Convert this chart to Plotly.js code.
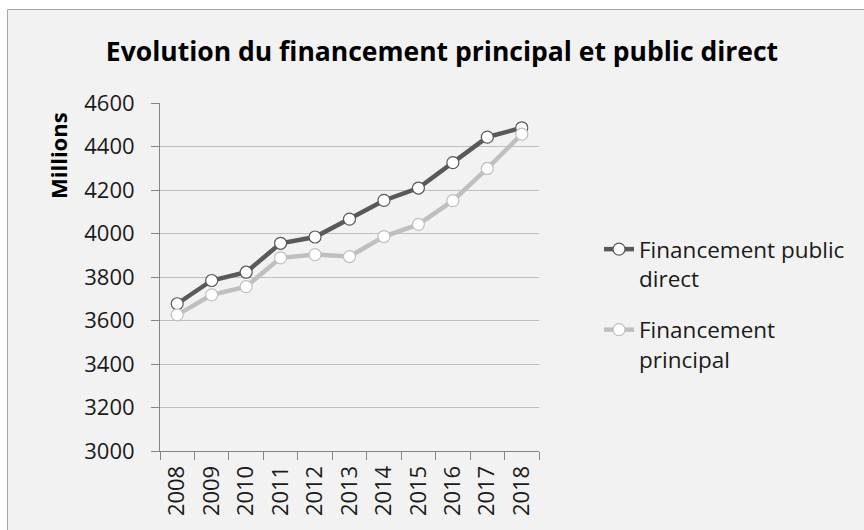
<!DOCTYPE html>
<html>
<head>
<meta charset="utf-8">
<script src="https://cdn.plot.ly/plotly-3.0.1.min.js"></script>
<style>
html,body{margin:0;padding:0;background:#ffffff;overflow:hidden;}
#chart{width:864px;height:530px;}
</style>
</head>
<body>
<div id="chart"></div>
<script>
var years = ["2008","2009","2010","2011","2012","2013","2014","2015","2016","2017","2018"];
var publicDirect = [3677, 3784, 3822, 3955, 3984, 4066, 4152, 4209, 4326, 4443, 4486];
var principal = [3626, 3718, 3756, 3888, 3903, 3894, 3986, 4042, 4151, 4299, 4457];
var yTicks = [3000, 3200, 3400, 3600, 3800, 4000, 4200, 4400, 4600];
var seriesNames = ["Financement public<br>direct", "Financement<br>principal"];
var chartTitle = "Evolution du financement principal et public direct";
var yTitle = "Millions";

var FONT = "Open Sans, Noto Sans, sans-serif";
var darkC = "#595959", lightC = "#bfbfbf";

var traces = [
  {x: years, y: publicDirect, name: seriesNames[0], type: "scatter", mode: "lines+markers",
   legendgroup: "a",
   line: {color: darkC, width: 4.5},
   marker: {symbol: "circle", size: 12, color: "#ffffff", line: {color: darkC, width: 1.2}}},
  {x: years, y: principal, name: seriesNames[1], type: "scatter", mode: "lines+markers",
   legendgroup: "b",
   line: {color: lightC, width: 4.5},
   marker: {symbol: "circle", size: 12, color: "#ffffff", line: {color: lightC, width: 1.2}}}
];

// plot area in pixels: x 160..539, y 103..451
var L = 160, R = 864 - 539, T = 103, B = 530 - 451;
var pw = 864 - L - R, ph = 530 - T - B;
function px2x(p){ return (p - L) / pw; }
function px2y(p){ return (530 - B - p) / ph; }

var layout = {
  width: 864, height: 530,
  margin: {l: L, r: R, t: T, b: B, pad: 0},
  paper_bgcolor: "#ffffff",
  plot_bgcolor: "rgba(0,0,0,0)",
  font: {family: FONT, size: 22, color: "#1a1a1a"},
  title: {text: "<b>" + chartTitle + "</b>", font: {family: FONT, size: 26.5, color: "#000000"},
          x: 442/864, xanchor: "center", xref: "container",
          y: 1 - 52/530, yanchor: "middle", yref: "container"},
  showlegend: true,
  legend: {x: px2x(599), xanchor: "left", y: px2y(228), yanchor: "top",
           bgcolor: "rgba(0,0,0,0)", font: {family: FONT, size: 22.5, color: "#1a1a1a"},
           traceorder: "grouped", tracegroupgap: 19, valign: "top"},
  xaxis: {type: "category", range: [-0.5, 10.5], showline: true, linecolor: "#868686", linewidth: 1,
          ticks: "outside", tickson: "boundaries", ticklen: 8, tickcolor: "#868686",
          tickangle: -90, ticklabelstandoff: 5, showgrid: false, zeroline: false, fixedrange: true,
          tickfont: {family: FONT, size: 22, color: "#1a1a1a"}},
  yaxis: {range: [3000, 4600], tickvals: yTicks, ticktext: yTicks.map(String),
          showline: true, linecolor: "#868686", linewidth: 1,
          ticks: "outside", ticklen: 8, tickcolor: "#868686", ticklabelstandoff: 12,
          showgrid: true, gridcolor: "#bfbfbf", gridwidth: 1, zeroline: false, fixedrange: true,
          tickfont: {family: FONT, size: 22, color: "#1a1a1a"}},
  shapes: [
    {type: "rect", xref: "paper", yref: "paper", layer: "below",
     x0: px2x(7.5), x1: px2x(1000), y0: px2y(600), y1: px2y(9.5),
     fillcolor: "#f2f2f2", line: {color: "#a6a6a6", width: 1}}
  ],
  annotations: [
    {text: "<b>" + yTitle + "</b>", xref: "paper", yref: "paper", x: px2x(58), y: px2y(155),
     xanchor: "center", yanchor: "middle", textangle: -90, showarrow: false,
     font: {family: FONT, size: 22, color: "#000000"}}
  ]
};

Plotly.newPlot("chart", traces, layout, {displayModeBar: false, staticPlot: true});
</script>
</body>
</html>
